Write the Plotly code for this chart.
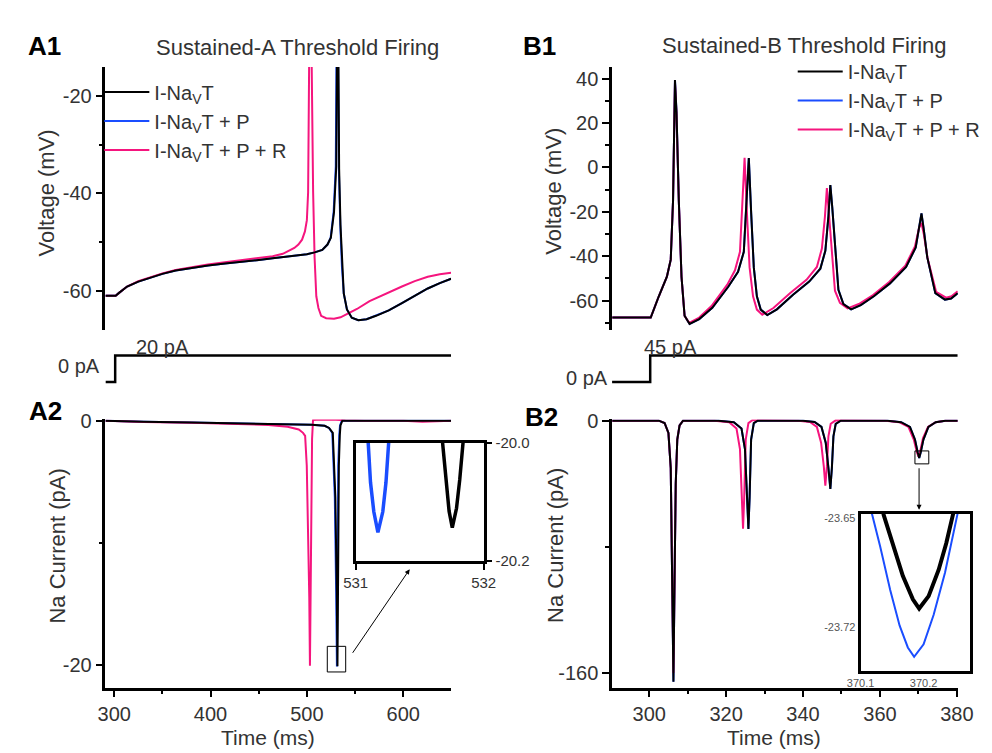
import plotly.graph_objects as go

W, H = 992, 753
FONT = "Arial, Liberation Sans, sans-serif"
BLACK = "#000000"
BLUE = "#1a4dff"
PINK = "#f5157e"
TXT = "#333333"

# ---------------- A1: voltage (mV) vs time (ms) ----------------
a1_t_black = [290.9, 301.5, 305, 313.4, 325, 336.9, 350, 363.8, 380, 397.3, 415, 430.8, 448, 464.5,
              480, 491.2, 500, 508.1, 516, 521.4, 524.9, 528.2, 530.5, 531.3, 532.0, 532.7, 533.5,
              534.9, 536.5, 538.3, 541.6, 546.6, 553.4, 562, 571.8, 585, 598.7, 612, 625.5, 638, 649.7]
a1_v_black = [-61.0, -61.0, -60.4, -59.1, -58.1, -57.3, -56.5, -55.8, -55.3, -54.8, -54.4, -54.1, -53.7,
              -53.3, -53.0, -52.8, -52.5, -52.1, -51.6, -50.5, -49.1, -43.8, -34.5, -10, 25, -10, -35,
              -46.5, -55, -60.5, -63.8, -65.5, -66.0, -65.8, -65.1, -64.0, -62.5, -61.0, -59.5, -58.4, -57.5]
a1_t_blue = [290.9, 301.5, 305, 313.4, 325, 336.9, 350, 363.8, 380, 397.3, 415, 430.8, 448, 464.5,
             480, 491.2, 500, 508.1, 516, 521.4, 524.7, 527.8, 530.0, 530.8, 531.5, 532.3, 533.2,
             534.7, 536.4, 538.3, 541.6, 546.6, 553.4, 562, 571.8, 585, 598.7, 612, 625.5, 638, 649.7]
a1_v_blue = [-61.0, -61.0, -60.4, -59.1, -58.1, -57.3, -56.5, -55.8, -55.3, -54.8, -54.4, -54.1, -53.7,
             -53.3, -53.0, -52.8, -52.5, -52.1, -51.6, -50.5, -49.1, -43.8, -34.5, -10, 25, -10, -35,
             -46.5, -55, -60.5, -63.8, -65.5, -66.0, -65.8, -65.1, -64.0, -62.5, -61.0, -59.5, -58.4, -57.5]
a1_t_pink = [290.9, 301.5, 305, 313.4, 325, 336.9, 350, 363.8, 380, 397.3, 415, 430.8, 448, 464.5, 475,
             481.2, 487, 491.2, 495, 498.0, 500.0, 501.3, 502.6, 503.9, 504.8, 505.6, 506.5, 508.0, 509.8,
             512, 514.8, 520, 528.2, 535, 541.6, 552, 565.1, 580, 598.7, 612, 625.5, 638, 649.7]
a1_v_pink = [-61.0, -61.0, -60.4, -59.1, -58.0, -57.2, -56.4, -55.7, -55.1, -54.6, -54.1, -53.7, -53.3,
             -52.9, -52.4, -51.8, -51.2, -50.5, -49.5, -47.8, -45.5, -39.8, -26.5, 25, -10, -26.5, -39.8,
             -53.1, -61.1, -63.5, -65.1, -65.6, -65.7, -65.4, -64.8, -63.7, -62.1, -60.7, -59.1, -58.0,
             -57.1, -56.6, -56.3]
a1_ticks = [-60, -40, -20]

# stimulus steps (pA)
stim_a_t = [290.9, 301.0, 301.0, 649.7]
stim_a_i = [0, 0, 20, 20]
stim_b_t = [290.34, 300.26, 300.26, 380.2]
stim_b_i = [0, 0, 45, 45]

# ---------------- A2: Na current (pA) ----------------
a2_t_black = [290.9, 330.6, 380, 427.9, 470, 491.6, 505, 518.5, 523, 526.9, 528.6, 529.6, 531.0, 531.76,
              532.5, 533.2, 534.2, 534.9, 536.8, 560, 649.7]
a2_i_black = [0.0, -0.1, -0.15, -0.21, -0.26, -0.29, -0.34, -0.42, -0.6, -1.0, -3.7, -6.3, -14, -20.14,
              -12, -3.7, -1.2, -0.4, 0.0, 0.0, 0.0]
a2_t_blue = [290.9, 330.6, 380, 427.9, 470, 491.6, 505, 518.5, 523, 526.4, 528.0, 529.0, 530.4, 531.17,
             531.9, 532.6, 533.6, 534.4, 536.3, 560, 649.7]
a2_i_blue = [0.0, -0.1, -0.15, -0.21, -0.26, -0.29, -0.34, -0.42, -0.6, -1.0, -3.7, -6.3, -14, -20.15,
             -12, -3.7, -1.2, -0.4, 0.0, 0.0, 0.0]
a2_t_pink = [290.9, 330.6, 380, 427.9, 460, 480, 491.6, 496, 498.2, 499.9, 501.6, 502.5, 503.2, 503.9,
             504.6, 505.4, 506.4, 510, 530, 540, 560, 600, 620, 640, 649.7]
a2_i_pink = [0.0, -0.12, -0.18, -0.25, -0.35, -0.5, -0.72, -1.0, -1.25, -3.7, -9.4, -14.5, -20.1, -14,
             -6, -1.5, 0.05, 0.08, 0.08, 0.03, 0.0, 0.0, -0.1, -0.05, 0.0]
a2_xticks = [300, 400, 500, 600]
a2_yticks = [-20, 0]

# A2 inset (zoom of the spike minimum)
ins_a_t_blue = [531.098, 531.116, 531.142, 531.174, 531.212, 531.237, 531.258]
ins_a_i_blue = [-20.0, -20.067, -20.117, -20.152, -20.117, -20.067, -20.0]
ins_a_t_black = [531.679, 531.705, 531.73, 531.755, 531.788, 531.813, 531.839]
ins_a_i_black = [-20.0, -20.067, -20.116, -20.144, -20.111, -20.063, -20.0]
ins_a_xticks = [531, 532]
ins_a_yticks = [-20.2, -20.0]

# ---------------- B1: voltage ----------------
b1_t_black = [290.4, 300.4, 302.5, 304.6, 305.6, 306.2, 306.7, 307.1, 307.7, 308.4, 309.2, 310.5, 313.0,
              316.4, 320.6, 323.1, 324.6, 325.4, 325.9, 326.5, 327.2, 328.0, 329.0, 330.7, 333.2, 337.4,
              341.6, 344.5, 345.8, 346.6, 347.1, 347.6, 348.3, 349.2, 350.5, 352.5, 355.0, 358.4, 362.6,
              366.8, 369.3, 370.3, 370.8, 371.4, 372.3, 374.4, 376.9, 378.5, 380.2]
b1_v_black = [-67.6, -67.6, -58.0, -49.2, -41.5, -15, 39.4, 25, -15, -49.2, -66.8, -70.5, -68.3, -63.2,
              -53.6, -47.0, -38, -15, 4.2, -20, -45, -58, -64, -66.5, -63.9, -57.3, -51.4, -45.6, -37.5,
              -22, -7.9, -18, -33.1, -55.1, -61.5, -63.9, -62.0, -58.0, -52.2, -44.8, -36.0, -26, -20.7,
              -28, -40.4, -56.6, -59.5, -59.0, -56.6]
b1_t_blue = b1_t_black  # I-NavT + P overlaps I-NavT here
b1_v_blue = b1_v_black
b1_t_pink = [290.4, 300.4, 302.5, 304.6, 305.6, 306.2, 306.7, 307.1, 307.7, 308.4, 309.2, 310.4, 313.0,
             316.2, 320.3, 322.3, 323.6, 324.3, 324.8, 325.4, 326.1, 327.0, 328.0, 329.4, 332.3, 336.6,
             340.9, 343.6, 344.9, 345.7, 346.2, 346.7, 347.4, 348.3, 349.6, 351.6, 354.5, 358.2, 362.4,
             366.6, 369.1, 370.2, 370.8, 371.4, 372.4, 374.6, 377.2, 378.6, 380.2]
b1_v_pink = [-67.6, -67.6, -58.0, -49.2, -41.5, -15, 38.0, 24, -15, -49.2, -66.8, -70.0, -67.6, -62.4,
             -52.8, -46.3, -38, -15, 4.4, -20, -45, -58, -64, -66.3, -63.3, -56.6, -50.6, -44.8, -36.5,
             -22, -9.3, -20, -35, -55.5, -61.0, -63.5, -61.5, -57.5, -51.6, -44.2, -35.6, -27, -25, -30,
             -41, -56.0, -58.6, -58.0, -55.8]
b1_ticks = [-60, -40, -20, 0, 20, 40]

# ---------------- B2: Na current ----------------
b2_t_black = [290.4, 302.5, 304.0, 305.0, 305.6, 306.0, 306.3, 306.6, 306.9, 307.3, 307.9, 308.8, 318.0,
              322.0, 324.0, 324.9, 325.5, 325.8, 326.1, 326.5, 327.2, 328.2, 340.0, 343.0, 344.8, 345.9,
              346.6, 347.1, 347.5, 347.9, 348.5, 349.8, 362.0, 365.5, 367.8, 369.1, 369.8, 370.2, 370.6,
              371.3, 372.6, 374.5, 377.0, 380.2]
b2_i_black = [0, 0, -1.5, -7.8, -30, -100, -165.5, -100, -40, -12, -3, 0, 0, -1, -5, -18, -49, -68.7,
              -49, -12, -1.6, 0, 0, -0.8, -4, -14, -30, -43.3, -30, -10, -2, 0, 0, -1, -4, -12, -20,
              -23.71, -20, -12, -4, -1, 0, 0]
b2_t_blue = b2_t_black
b2_i_blue = [0, 0, -1.5, -7.8, -30, -100, -165.5, -100, -40, -12, -3, 0, 0, -1, -5, -18, -49, -68.7,
             -49, -12, -1.6, 0, 0, -0.8, -4, -14, -30, -43.3, -30, -10, -2, 0, 0, -1, -4, -12, -20,
             -23.74, -20, -12, -4, -1, 0, 0]
b2_t_pink = [290.4, 302.5, 304.0, 305.0, 305.6, 306.0, 306.3, 306.6, 306.9, 307.3, 307.9, 308.8, 317.0,
             320.8, 322.7, 323.6, 324.1, 324.4, 324.7, 325.1, 325.8, 326.8, 338.8, 341.8, 343.6, 344.7,
             345.4, 345.8, 346.2, 346.6, 347.2, 348.5, 361.5, 365.0, 367.4, 368.8, 369.6, 370.05, 370.5,
             371.2, 372.5, 374.5, 377.0, 380.2]
b2_i_pink = [0, 0, -1.5, -7.8, -30, -100, -160, -100, -40, -12, -3, 0, 0, -1, -5, -18, -49, -68.5,
             -49, -12, -1.6, 0.3, 0, -0.8, -4, -14, -29, -41.3, -29, -10, -2, 0.2, 0, -1, -4, -12, -20,
             -22.8, -19, -11, -4, -1, 0, 0]
b2_xticks = [300, 320, 340, 360, 380]
b2_yticks = [-160, 0]

# B2 inset
ins_b_t_black = [370.136, 370.152, 370.167, 370.183, 370.193, 370.208, 370.224, 370.236, 370.247]
ins_b_i_black = [-23.647, -23.668, -23.687, -23.702, -23.708, -23.700, -23.683, -23.666, -23.647]
ins_b_t_blue = [370.118, 370.131, 370.147, 370.162, 370.175, 370.185, 370.200, 370.216, 370.234,
                370.244, 370.254]
ins_b_i_blue = [-23.647, -23.668, -23.696, -23.719, -23.733, -23.739, -23.731, -23.712, -23.685,
                -23.666, -23.647]
ins_b_xticks = [370.1, 370.2]
ins_b_yticks = [-23.72, -23.65]

names = ["I-Na<sub>V</sub>T", "I-Na<sub>V</sub>T + P", "I-Na<sub>V</sub>T + P + R"]


def lab(vals, fmt="{:g}"):
    # hyphen-minus labels, as in the original figure
    return [fmt.format(v) for v in vals]


def dx(a, b):
    return [a / W, b / W]


def dy(top, bot):
    return [1 - bot / H, 1 - top / H]


fig = go.Figure()


def add(t, v, color, xa, ya, width=2, name=None, legend=None, rank=None):
    fig.add_trace(go.Scatter(
        x=t, y=v, mode="lines", line=dict(color=color, width=width),
        xaxis=xa, yaxis=ya, name=name, showlegend=legend is not None,
        legend=legend if legend else "legend", legendrank=rank if rank else 1000,
        hoverinfo="skip"))


# A1
add(a1_t_blue, a1_v_blue, BLUE, "x", "y", name=names[1], legend="legend", rank=2)
add(a1_t_pink, a1_v_pink, PINK, "x", "y", name=names[2], legend="legend", rank=3)
add(a1_t_black, a1_v_black, BLACK, "x", "y", name=names[0], legend="legend", rank=1)
# stim A
add(stim_a_t, stim_a_i, BLACK, "x2", "y2", width=2.5)
# A2
add(a2_t_blue, a2_i_blue, BLUE, "x3", "y3")
add(a2_t_pink, a2_i_pink, PINK, "x3", "y3")
add(a2_t_black, a2_i_black, BLACK, "x3", "y3")
# A2 inset
add(ins_a_t_blue, ins_a_i_blue, BLUE, "x4", "y4", width=3.5)
add(ins_a_t_black, ins_a_i_black, BLACK, "x4", "y4", width=3.5)
# B1
add(b1_t_blue, b1_v_blue, BLUE, "x5", "y5", name=names[1], legend="legend2", rank=2)
add(b1_t_pink, b1_v_pink, PINK, "x5", "y5", name=names[2], legend="legend2", rank=3)
add(b1_t_black, b1_v_black, BLACK, "x5", "y5", name=names[0], legend="legend2", rank=1)
# stim B
add(stim_b_t, stim_b_i, BLACK, "x6", "y6", width=2.5)
# B2
add(b2_t_blue, b2_i_blue, BLUE, "x7", "y7")
add(b2_t_pink, b2_i_pink, PINK, "x7", "y7")
add(b2_t_black, b2_i_black, BLACK, "x7", "y7")
# B2 inset
add(ins_b_t_blue, ins_b_i_blue, BLUE, "x8", "y8", width=2)
add(ins_b_t_black, ins_b_i_black, BLACK, "x8", "y8", width=4)

tickfont = dict(family=FONT, size=20, color=TXT)


def axstyle(**kw):
    d = dict(showline=True, linecolor=BLACK, linewidth=2.5, ticks="outside", ticklen=7, tickwidth=2,
             tickcolor=BLACK, showgrid=False, zeroline=False, tickfont=tickfont, fixedrange=True)
    d.update(kw)
    return d


def minor(vals):
    return dict(ticks="outside", ticklen=4, tickwidth=2, tickcolor=BLACK, showgrid=False, tickvals=vals)


hidden = dict(visible=False, fixedrange=True)
small_a = dict(family=FONT, size=15, color=TXT)
small_b = dict(family=FONT, size=11, color="#555555")

fig.update_layout(
    width=W, height=H, margin=dict(l=0, r=0, t=0, b=0),
    paper_bgcolor="white", plot_bgcolor="rgba(0,0,0,0)",
    font=dict(family=FONT, color=TXT),
    # A1
    xaxis=dict(domain=dx(94.3, 450.7), range=[290.9, 649.7], anchor="y", **hidden),
    yaxis=axstyle(domain=dy(58.3, 328.3), range=[-68.1, -14.1], anchor="x",
                  tickvals=a1_ticks, ticktext=lab(a1_ticks), minor=minor([-50, -30])),
    # stim A
    xaxis2=dict(domain=dx(94.3, 450.7), range=[290.9, 649.7], anchor="y2", **hidden),
    yaxis2=dict(domain=dy(345, 390), range=[-6.67, 26.67], anchor="x2", **hidden),
    # A2
    xaxis3=axstyle(domain=dx(94.3, 450.7), range=[290.9, 649.7], anchor="y3",
                   tickvals=a2_xticks, ticktext=lab(a2_xticks), minor=minor([350, 450, 550, 650])),
    yaxis3=axstyle(domain=dy(419.5, 694.3), range=[-21.89, 0.096], anchor="x3",
                   tickvals=a2_yticks, ticktext=lab(a2_yticks), minor=minor([-10])),
    # A2 inset
    xaxis4=axstyle(domain=dx(352.3, 484.3), range=[531, 532], anchor="y4", mirror=True,
                   tickvals=ins_a_xticks, ticktext=lab(ins_a_xticks), ticklen=6, tickfont=small_a),
    yaxis4=axstyle(domain=dy(443.3, 564.3), range=[-20.2, -20.0], anchor="x4", side="right",
                   mirror=True, tickvals=ins_a_yticks, ticktext=lab(ins_a_yticks, "{:.1f}"), ticklen=6,
                   tickfont=small_a),
    # B1
    xaxis5=dict(domain=dx(616.7, 973.3), range=[290.34, 380.26], anchor="y5", **hidden),
    yaxis5=axstyle(domain=dy(58.3, 328.3), range=[-73.4, 45.3], anchor="x5",
                   tickvals=b1_ticks, ticktext=lab(b1_ticks), minor=minor([-70, -50, -30, -10, 10, 30])),
    # stim B
    xaxis6=dict(domain=dx(616.7, 973.3), range=[290.34, 380.26], anchor="y6", **hidden),
    yaxis6=dict(domain=dy(345, 390), range=[-15, 60], anchor="x6", **hidden),
    # B2
    xaxis7=axstyle(domain=dx(616.7, 973.3), range=[290.34, 380.26], anchor="y7",
                   tickvals=b2_xticks, ticktext=lab(b2_xticks), minor=minor([310, 330, 350, 370])),
    yaxis7=axstyle(domain=dy(419.5, 694.3), range=[-169.3, 0.74], anchor="x7",
                   tickvals=b2_yticks, ticktext=lab(b2_yticks), minor=minor([-80])),
    # B2 inset
    xaxis8=axstyle(domain=dx(873, 986), range=[370.1, 370.274], anchor="y8", mirror=True, linewidth=3,
                   ticks="", tickvals=ins_b_xticks, ticktext=lab(ins_b_xticks, "{:.1f}"), tickfont=small_b),
    yaxis8=axstyle(domain=dy(516, 677), range=[-23.748, -23.647], anchor="x8", mirror=True, linewidth=3,
                   ticks="", tickvals=ins_b_yticks, ticktext=lab(ins_b_yticks, "{:.2f}"), tickfont=small_b),
    legend=dict(x=88 / W, y=1 - 64 / H, xanchor="left", yanchor="top", bgcolor="rgba(0,0,0,0)",
                font=dict(family=FONT, size=20, color=TXT), itemwidth=45, traceorder="normal",
                tracegroupgap=0, itemclick=False, itemdoubleclick=False),
    legend2=dict(x=803 / W, y=1 - 43 / H, xanchor="left", yanchor="top", bgcolor="rgba(0,0,0,0)",
                 font=dict(family=FONT, size=20, color=TXT), itemwidth=45, traceorder="normal",
                 tracegroupgap=0, itemclick=False, itemdoubleclick=False),
)


def note(text, xp, yp, size=20, xanchor="center", angle=0, color=TXT):
    fig.add_annotation(text=text, x=xp / W, y=1 - yp / H, xref="paper", yref="paper",
                       xanchor=xanchor, yanchor="middle", showarrow=False, textangle=angle,
                       font=dict(family=FONT, size=size, color=color))


note("<b>A1</b>", 12, 37, size=26, xanchor="left", color=BLACK)
note("<b>B1</b>", 523, 37, size=26, xanchor="left", color=BLACK)
note("<b>A2</b>", 13, 411, size=26, xanchor="left", color=BLACK)
note("<b>B2</b>", 525, 417, size=26, xanchor="left", color=BLACK)
note("Sustained-A Threshold Firing", 292.5, 38, size=22)
note("Sustained-B Threshold Firing", 815, 36, size=22)
note("Voltage (mV)", 34, 187, size=22, angle=-90)
note("Voltage (mV)", 556, 186, size=22, angle=-90)
note("Na Current (pA)", 45, 549, size=22, angle=-90)
note("Na Current (pA)", 559, 549, size=22, angle=-90)
note("Time (ms)", 262, 745, size=21)
note("Time (ms)", 784, 745, size=21)
note("0 pA", 91, 365, xanchor="right")
note("20 pA", 153, 345)
note("0 pA", 615, 376.5, xanchor="right")
note("45 pA", 676.5, 345)

# zoom boxes
fig.add_shape(type="rect", xref="x3", yref="y3", x0=521.2, x1=540.3, y0=-18.5, y1=-20.6,
              line=dict(color=BLACK, width=1))
fig.add_shape(type="rect", xref="x7", yref="y7", x0=369.1, x1=372.7, y0=-19.2, y1=-27.4,
              line=dict(color=BLACK, width=1))
# arrows
fig.add_annotation(x=408 / W, y=1 - 573 / H, xref="paper", yref="paper", ax=-58, ay=85,
                   showarrow=True, arrowhead=2, arrowsize=1, arrowwidth=1, arrowcolor=BLACK, text="")
fig.add_annotation(x=933.3 / W, y=1 - 512 / H, xref="paper", yref="paper", ax=0, ay=-43,
                   showarrow=True, arrowhead=2, arrowsize=1, arrowwidth=1, arrowcolor=BLACK, text="")

fig.write_html("out.html")
